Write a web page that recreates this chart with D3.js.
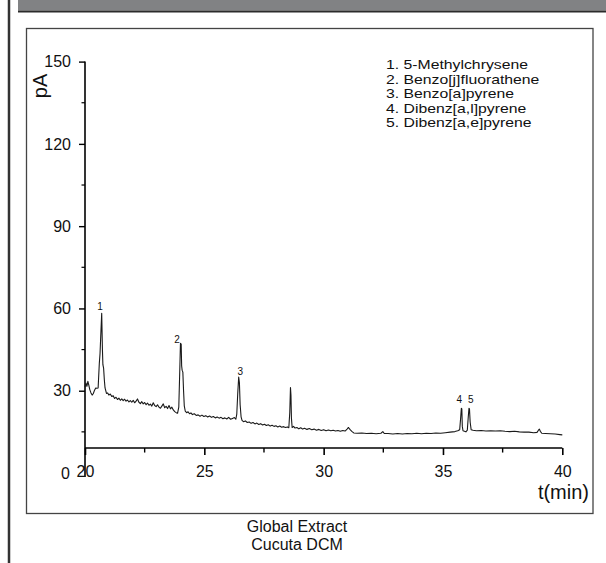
<!DOCTYPE html>
<html>
<head>
<meta charset="utf-8">
<script src="https://cdn.jsdelivr.net/npm/d3@7"></script>
<style>
  body { margin: 0; background: #fff; }
  text { font-family: "Liberation Sans", Arial, sans-serif; fill: #111; }
</style>
</head>
<body>
<div id="plot"></div>
<script>
// chromatogram trace, time (min) and signal (pA)
const traceT = [
  20.00, 20.04, 20.08, 20.12, 20.16, 20.20, 20.25, 20.30, 20.35, 20.40, 20.45, 20.50,
  20.55, 20.60, 20.63, 20.66, 20.70, 20.73, 20.75, 20.78, 20.81, 20.84, 20.90, 20.95,
  21.00, 21.06, 21.12, 21.18, 21.24, 21.30, 21.36, 21.42, 21.48, 21.54, 21.60, 21.66,
  21.72, 21.78, 21.84, 21.90, 21.96, 22.02, 22.08, 22.14, 22.20, 22.26, 22.32, 22.38,
  22.44, 22.50, 22.56, 22.62, 22.68, 22.74, 22.80, 22.86, 22.92, 22.98, 23.04, 23.10,
  23.16, 23.22, 23.28, 23.34, 23.40, 23.46, 23.52, 23.58, 23.64, 23.70, 23.76, 23.82,
  23.88, 23.93, 23.97, 24.00, 24.03, 24.05, 24.07, 24.10, 24.13, 24.16, 24.20, 24.26,
  24.32, 24.38, 24.44, 24.50, 24.58, 24.66, 24.74, 24.82, 24.90, 24.98, 25.06, 25.14,
  25.22, 25.30, 25.38, 25.46, 25.54, 25.62, 25.70, 25.78, 25.86, 25.94, 26.02, 26.10,
  26.18, 26.26, 26.32, 26.36, 26.40, 26.44, 26.47, 26.50, 26.54, 26.58, 26.64, 26.72,
  26.80, 26.88, 26.96, 27.04, 27.12, 27.20, 27.28, 27.36, 27.44, 27.52, 27.60, 27.68,
  27.76, 27.84, 27.92, 28.00, 28.08, 28.16, 28.24, 28.32, 28.40, 28.48, 28.54, 28.58,
  28.61, 28.63, 28.65, 28.68, 28.74, 28.80, 28.88, 28.96, 29.04, 29.12, 29.20, 29.30,
  29.40, 29.50, 29.60, 29.70, 29.80, 29.90, 30.00, 30.10, 30.20, 30.30, 30.40, 30.50,
  30.60, 30.70, 30.80, 30.90, 30.98, 31.04, 31.10, 31.18, 31.26, 31.40, 31.60, 31.80,
  32.00, 32.20, 32.40, 32.48, 32.54, 32.70, 32.90, 33.10, 33.30, 33.50, 33.70, 33.90,
  34.10, 34.30, 34.50, 34.70, 34.90, 35.10, 35.30, 35.50, 35.62, 35.70, 35.74, 35.77,
  35.79, 35.81, 35.84, 35.90, 35.96, 36.02, 36.06, 36.09, 36.11, 36.14, 36.18, 36.26,
  36.40, 36.60, 36.80, 37.00, 37.20, 37.40, 37.60, 37.80, 38.00, 38.20, 38.40, 38.60,
  38.80, 38.94, 39.00, 39.04, 39.08, 39.14, 39.30, 39.50, 39.70, 39.90, 40.00
];
const traceV = [
  31.3, 32.8, 31.6, 33.4, 32.0, 30.4, 29.2, 28.4, 29.0, 30.2, 31.0, 30.9,
  31.0, 40.0, 43.6, 50.0, 58.2, 45.0, 39.5, 38.2, 34.0, 31.0, 29.0, 29.2,
  28.4, 28.8, 27.9, 28.2, 27.2, 27.6, 26.8, 27.3, 26.5, 27.0, 26.4, 26.9,
  26.2, 26.6, 25.9, 26.4, 25.8, 26.5, 25.6, 26.2, 27.0, 25.8, 25.3, 26.0,
  25.2, 25.7, 24.9, 25.5, 24.7, 25.1, 24.4, 25.6, 24.6, 24.2, 24.9, 24.0,
  23.6, 24.4, 25.2, 23.8, 24.3, 23.5, 24.6, 23.4, 24.0, 23.0, 22.4, 22.0,
  21.8, 24.0, 37.0, 47.3, 47.0, 39.0, 37.5, 36.8, 30.0, 24.5, 22.6, 22.0,
  22.3, 21.6, 21.9, 21.3, 21.6, 21.0, 21.2, 20.7, 21.1, 20.6, 20.9, 20.4,
  20.8, 20.3, 20.6, 20.1, 20.4, 20.0, 20.3, 19.8, 20.1, 19.7, 20.3, 19.6,
  19.9, 20.2, 19.6, 21.5, 29.0, 35.0, 33.0, 25.0, 20.5, 19.2, 18.7, 19.0,
  18.4, 18.6, 18.1, 18.4, 17.9, 18.2, 17.7, 18.0, 17.5, 17.8, 17.3, 17.6,
  17.1, 17.4, 17.0, 17.2, 16.8, 17.1, 16.7, 16.9, 16.6, 16.8, 16.5, 22.0,
  31.2, 28.4, 20.0, 16.6, 17.0, 16.4, 16.6, 16.1, 16.5, 16.0, 16.3, 15.9,
  16.2, 15.8, 16.0, 15.6, 15.9, 15.5, 15.8, 15.4, 15.7, 15.4, 15.6, 15.3,
  15.5, 15.2, 15.5, 15.3, 16.0, 16.6, 15.9, 15.2, 14.6, 14.5, 14.6, 14.4,
  14.5, 14.3, 14.5, 15.1, 14.4, 14.4, 14.2, 14.4, 14.2, 14.4, 14.3, 14.5,
  14.3, 14.5, 14.4, 14.6, 14.5, 14.7, 14.9, 15.1, 15.4, 15.8, 20.0, 23.6,
  23.4, 17.0, 15.4, 15.2, 15.0, 15.6, 20.5, 23.6, 23.4, 18.5, 15.8, 15.6,
  15.4, 15.5, 15.3, 15.4, 15.3, 15.4, 15.2, 15.1, 15.2, 15.0, 14.9, 14.9,
  14.7, 14.8, 15.6, 16.0, 15.2, 14.5, 14.4, 14.3, 14.2, 14.0, 13.9
];

// peak number labels (anchor time, anchor value)
const peakLabels = ["1", "2", "3", "4", "5"];
const peakLabelT = [20.63, 23.86, 26.51, 35.68, 36.17];
const peakLabelV = [59.6, 47.4, 35.6, 25.5, 25.5];

const compounds = [
  "1. 5-Methylchrysene",
  "2. Benzo[j]fluorathene",
  "3. Benzo[a]pyrene",
  "4. Dibenz[a,l]pyrene",
  "5. Dibenz[a,e]pyrene"
];

const xTicks = [20, 25, 30, 35, 40];
const xMinorTicks = [22.5, 27.5, 32.5, 37.5];
const yTicks = [0, 30, 60, 90, 120, 150];
const yMinorTicks = [15, 45, 75, 105, 135];
const yAxisBottom = 9.1; // x axis crosses here

const svgWidth = 606;
const svgHeight = 563;

const svg = d3
  .select("div#plot")
  .append("svg")
  .attr("width", svgWidth)
  .attr("height", svgHeight);

svg.append("rect").attr("width", svgWidth).attr("height", svgHeight).attr("fill", "#fff");

// page decoration: grey header bar, left rule, figure frame
svg.append("rect").attr("x", 18).attr("y", 0).attr("width", 588).attr("height", 10.5).attr("fill", "#818284");
svg.append("line").attr("x1", 18).attr("x2", 606).attr("y1", 11.5).attr("y2", 11.5)
  .attr("stroke", "#2b2b2b").attr("stroke-width", 2);
svg.append("line").attr("x1", 9).attr("x2", 9).attr("y1", 0).attr("y2", svgHeight)
  .attr("stroke", "#333").attr("stroke-width", 2.5);
svg.append("rect").attr("x", 26.5).attr("y", 28.5).attr("width", 566.5).attr("height", 485)
  .attr("fill", "none").attr("stroke", "#444").attr("stroke-width", 1.3);

// scales
const x = d3.scaleLinear().domain([20, 40]).range([85, 562.3]);
const y = d3.scaleLinear().domain([0, 150]).range([473, 61.6]);

const g = svg.append("g");

// x axis
const xAxis = g.append("g")
  .attr("transform", "translate(0," + y(yAxisBottom) + ")")
  .call(d3.axisBottom(x).tickValues(xTicks).tickSize(7).tickPadding(11).tickFormat(d3.format("d")));
xAxis.select(".domain").attr("d", "M" + x(20) + ",0H" + x(40)).attr("stroke", "#000").attr("stroke-width", 1.6);
xAxis.selectAll(".tick line").attr("stroke-width", 1.6);
xAxis.selectAll("text").style("font-size", "16px").attr("fill", "#111");
g.append("g")
  .attr("transform", "translate(0," + y(yAxisBottom) + ")")
  .selectAll("line")
  .data(xMinorTicks)
  .enter()
  .append("line")
  .attr("x1", (d) => x(d)).attr("x2", (d) => x(d))
  .attr("y1", 0).attr("y2", 4.5)
  .attr("stroke", "#000").attr("stroke-width", 1.4);

// y axis
const yAxis = g.append("g")
  .attr("transform", "translate(" + x(20) + ",0)")
  .call(d3.axisLeft(y).tickValues(yTicks).tickSize(6).tickPadding(8));
yAxis.select(".domain").attr("d", "M0," + y(150) + "V" + (y(0) + 4)).attr("stroke", "#000").attr("stroke-width", 1.6);
yAxis.selectAll(".tick line").attr("stroke-width", 1.4).attr("opacity", (d) => (d === 0 ? 0 : 1));
yAxis.selectAll("text").style("font-size", "16px").attr("fill", "#111")
  .attr("x", (d) => (d === 0 ? -15 : -14));
g.append("g")
  .attr("transform", "translate(" + x(20) + ",0)")
  .selectAll("line")
  .data(yMinorTicks)
  .enter()
  .append("line")
  .attr("x1", -3.5).attr("x2", 0)
  .attr("y1", (d) => y(d)).attr("y2", (d) => y(d))
  .attr("stroke", "#000").attr("stroke-width", 1.2);

// axis titles
svg.append("text")
  .attr("transform", "translate(47,86) rotate(-90)")
  .style("text-anchor", "middle")
  .style("font-size", "20px")
  .text("pA");
svg.append("text")
  .attr("x", 589).attr("y", 499)
  .style("text-anchor", "end")
  .style("font-size", "20px")
  .text("t(min)");

// trace
const line = d3.line().x((d) => x(d[0])).y((d) => y(d[1]));
g.append("path")
  .datum(traceT.map((t, i) => [t, traceV[i]]))
  .attr("d", line)
  .attr("fill", "none")
  .attr("stroke", "#1a1a1a")
  .attr("stroke-width", 1.1)
  .attr("stroke-linejoin", "round");

// peak numbers
g.selectAll(".peak-label")
  .data(peakLabels)
  .enter()
  .append("text")
  .attr("class", "peak-label")
  .attr("x", (d, i) => x(peakLabelT[i]))
  .attr("y", (d, i) => y(peakLabelV[i]))
  .style("text-anchor", "middle")
  .style("font-size", "10px")
  .text((d) => d);

// compound list (the source text is a bit wide, so stretch it horizontally)
svg.append("g")
  .attr("transform", "translate(386,0) scale(1.16,1)")
  .selectAll(".compound")
  .data(compounds)
  .enter()
  .append("text")
  .attr("class", "compound")
  .attr("x", 0)
  .attr("y", (d, i) => 69 + i * 14.6)
  .style("font-size", "13.6px")
  .text((d) => d);

// caption under the frame
svg.append("text").attr("x", 297).attr("y", 531.5).style("text-anchor", "middle")
  .style("font-size", "16px").text("Global Extract");
svg.append("text").attr("x", 297).attr("y", 550).style("text-anchor", "middle")
  .style("font-size", "16px").text("Cucuta DCM");
</script>
</body>
</html>
